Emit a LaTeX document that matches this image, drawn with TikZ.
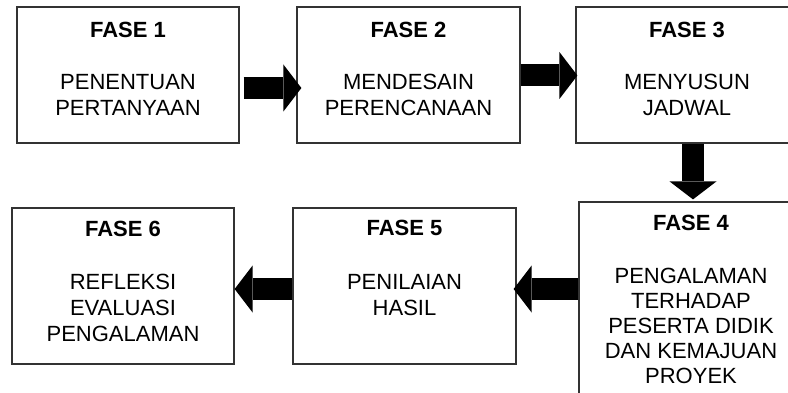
\documentclass[tikz,border=0pt]{standalone}
\usepackage{fontspec}
\setmainfont{Liberation Sans}
\usetikzlibrary{arrows.meta,calc}
\begin{document}
\begin{tikzpicture}[x=1pt,y=-1pt,
  box/.style={draw=black!80, line width=1.2pt, inner sep=0pt},
  txt/.style={anchor=base, align=center, inner sep=0pt, text=black},
  bigarrow/.style={line width=22pt, draw=black, -{Triangle[length=18pt,width=47pt,line width=0pt]}}
]
\useasboundingbox[fill=white] (0,0) rectangle (788,393);
% boxes
\node[box, minimum width=222pt, minimum height=136pt] (b1) at (128,75) {};
\node[box, minimum width=223pt, minimum height=136pt] (b2) at (408.5,75) {};
\node[box, minimum width=222pt, minimum height=136pt] (b3) at (687,75) {};
\node[box, minimum width=224pt, minimum height=218pt] (b4) at (691,311) {};
\node[box, minimum width=223pt, minimum height=156pt] (b5) at (404.5,286) {};
\node[box, minimum width=222pt, minimum height=156pt] (b6) at (123,286) {};
% texts (anchored at the baseline of their last line)
\node[txt, font=\fontsize{22}{26}\selectfont] (t1) at (b1.north |- 0,116) {\textbf{FASE 1}\\[26pt]PENENTUAN\\PERTANYAAN};
\node[txt, font=\fontsize{22}{26}\selectfont] (t2) at (b2.north |- 0,116) {\textbf{FASE 2}\\[26pt]MENDESAIN\\PERENCANAAN};
\node[txt, font=\fontsize{22}{26}\selectfont] (t3) at (b3.north |- 0,116) {\textbf{FASE 3}\\[26pt]MENYUSUN\\JADWAL};
\node[txt, font=\fontsize{22}{25}\selectfont] (t4) at (b4.north |- 0,383) {\textbf{FASE 4}\\[28pt]PENGALAMAN\\TERHADAP\\PESERTA DIDIK\\DAN KEMAJUAN\\PROYEK};
\node[txt, font=\fontsize{22}{25.5}\selectfont] (t5) at (b5.north |- 0,315) {\textbf{FASE 5}\\[29pt]PENILAIAN\\HASIL};
\node[txt, font=\fontsize{22}{26}\selectfont] (t6) at (b6.north |- 0,341) {\textbf{FASE 6}\\[27pt]REFLEKSI\\EVALUASI\\PENGALAMAN};
% arrows
\draw[bigarrow] ($(b1.east|-0,88)+(4,0)$) -- ($(b2.west|-0,88)+(5,0)$);
\draw[bigarrow] (b2.east|-0,75.5) -- ($(b3.west|-0,75.5)+(2,0)$);
\draw[bigarrow] (b3.south -| 693,0) -- ($(b4.north -| 693,0)+(0,-2)$);
\draw[bigarrow] (b4.west|-0,289) -- ($(b5.east|-0,289)+(-3,0)$);
\draw[bigarrow] (b5.west|-0,289) -- (b6.east|-0,289);
\end{tikzpicture}
\end{document}
